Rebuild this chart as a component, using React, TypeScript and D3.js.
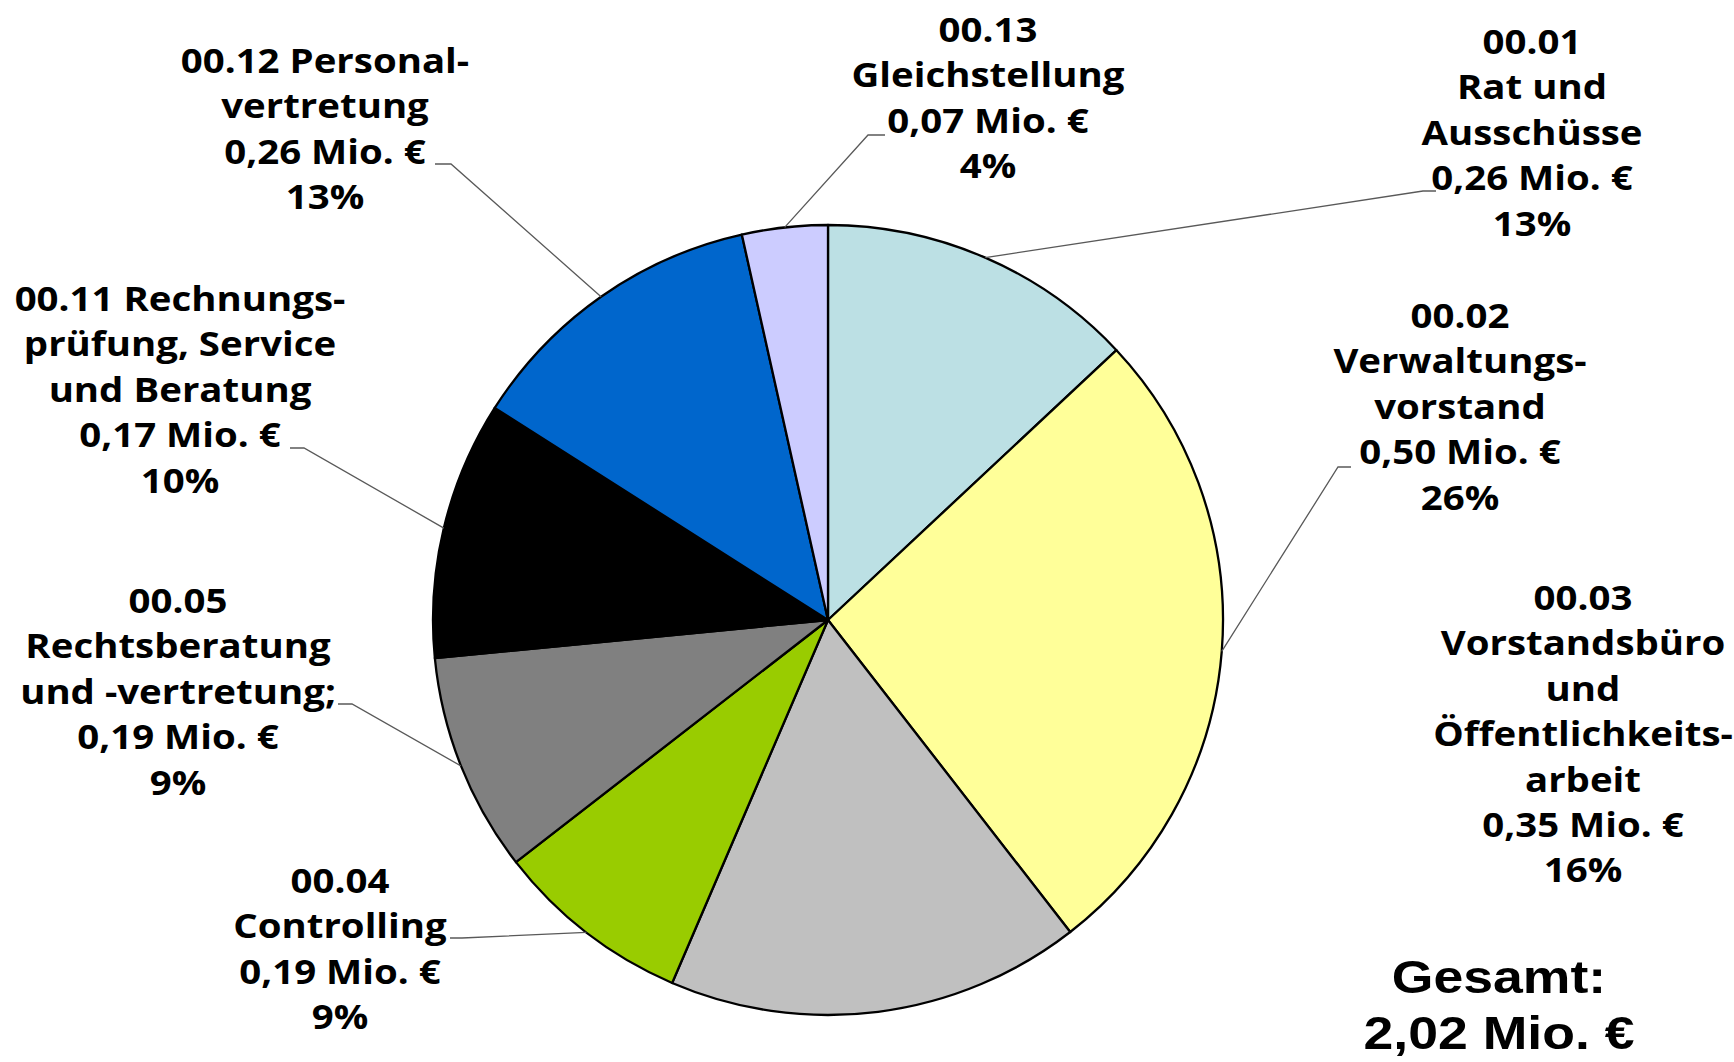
import React from 'react';
import * as d3 from 'd3';

// ---------- data ----------
const categories = ['00.01', '00.02', '00.03', '00.04', '00.05', '00.11', '00.12', '00.13'];
const nameLines: string[][] = [
  ['00.01', 'Rat und', 'Ausschüsse'],
  ['00.02', 'Verwaltungs-', 'vorstand'],
  ['00.03', 'Vorstandsbüro', 'und', 'Öffentlichkeits-', 'arbeit'],
  ['00.04', 'Controlling'],
  ['00.05', 'Rechtsberatung', 'und -vertretung;'],
  ['00.11 Rechnungs-', 'prüfung, Service', 'und Beratung'],
  ['00.12 Personal-', 'vertretung'],
  ['00.13', 'Gleichstellung'],
];
const amountsMio = [0.26, 0.5, 0.35, 0.19, 0.19, 0.17, 0.26, 0.07];
const percentLabels = [13, 26, 16, 9, 9, 10, 13, 4];
// slice sizes (share of the full circle, %)
const sliceShares = [13.03, 26.46, 16.96, 8.04, 8.96, 10.56, 12.48, 3.5];
const sliceColors = ['#BCE0E4', '#FFFF99', '#C0C0C0', '#99CC00', '#808080', '#000000', '#0066CC', '#CCCCFF'];
const totalLines = ['Gesamt:', '2,02 Mio. €'];

// ---------- layout ----------
const W = 1734;
const H = 1062;
const CX = 828;
const CY = 620;
const R = 395;
const FONT = 34;
const LINE_H = 45.4;
const STRETCH = 1.13;

// label block centre x, first baseline, and leader (text-side point, elbow point) or null
const labelLayout: { x: number; y: number; leader: [number, number, number, number] | null }[] = [
  { x: 1532, y: 54, leader: [1436, 191, 1423, 191] },
  { x: 1460, y: 328, leader: [1351, 467, 1338, 467] },
  { x: 1583, y: 610, leader: null },
  { x: 340, y: 893, leader: [450, 938, 462, 938] },
  { x: 178, y: 613, leader: [338, 704, 352, 704] },
  { x: 180, y: 311, leader: [290, 448, 304, 448] },
  { x: 325, y: 73, leader: [435, 164, 451, 164] },
  { x: 988, y: 42, leader: [885, 135, 868, 135] },
];

const fmtMio = (v: number) => d3.format('.2f')(v).replace('.', ',') + ' Mio. €';

export default function App() {
  const pie = d3
    .pie<number>()
    .sort(null)
    .value((d) => d)
    .startAngle(0)
    .endAngle(2 * Math.PI);
  const arcs = pie(sliceShares);
  const arc = d3.arc<d3.PieArcDatum<number>>().innerRadius(0).outerRadius(R);

  return (
    <svg
      width={W}
      height={H}
      viewBox={`0 0 ${W} ${H}`}
      style={{ position: 'absolute', left: 0, top: 0, background: '#fff' }}
    >
      <rect width={W} height={H} fill="#fff" />
      <g transform={`translate(${CX},${CY})`}>
        {arcs.map((a, i) => (
          <path key={categories[i]} d={arc(a) || ''} fill={sliceColors[i]} stroke="#000" strokeWidth={2.3} strokeLinejoin="round" />
        ))}
      </g>
      {/* leader lines */}
      {arcs.map((a, i) => {
        const L = labelLayout[i];
        if (!L.leader) return null;
        const mid = (a.startAngle + a.endAngle) / 2;
        const px = CX + R * Math.sin(mid);
        const py = CY - R * Math.cos(mid);
        const [tx, ty, ex, ey] = L.leader;
        return (
          <polyline
            key={'l' + i}
            points={`${tx},${ty} ${ex},${ey} ${px},${py}`}
            fill="none"
            stroke="#595959"
            strokeWidth={1.3}
          />
        );
      })}
      {/* labels */}
      {categories.map((c, i) => {
        const L = labelLayout[i];
        const lines = [...nameLines[i], fmtMio(amountsMio[i]), percentLabels[i] + '%'];
        return (
          <g key={'t' + c} transform={`translate(${L.x},0) scale(${STRETCH},1)`}>
            {lines.map((s, j) => (
              <text
                key={j}
                x={0}
                y={L.y + j * LINE_H}
                textAnchor="middle"
                fontFamily="'Open Sans', 'Noto Sans', sans-serif"
                fontWeight={700}
                fontSize={FONT}
                fill="#000"
              >
                {s}
              </text>
            ))}
          </g>
        );
      })}
      <g transform={`translate(1499,0) scale(1.14,1)`}>
        {totalLines.map((s, j) => (
          <text
            key={j}
            x={0}
            y={993 + j * 56}
            textAnchor="middle"
            fontFamily="'Liberation Sans', Arial, sans-serif"
            fontWeight={700}
            fontSize={47}
            fill="#000"
          >
            {s}
          </text>
        ))}
      </g>
    </svg>
  );
}
